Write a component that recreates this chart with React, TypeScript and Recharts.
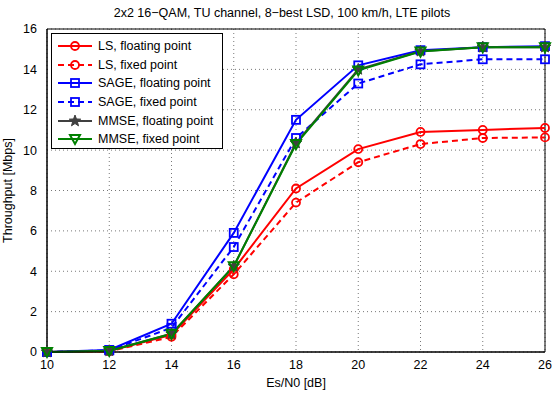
import React from 'react';
import {
  LineChart,
  Line,
  XAxis,
  YAxis,
  CartesianGrid,
  ReferenceArea,
} from 'recharts';

const snr = [10, 12, 14, 16, 18, 20, 22, 24, 26];
const lsFloat = [0, 0.05, 0.85, 4.1, 8.1, 10.05, 10.9, 11.0, 11.1];
const lsFixed = [0, 0.03, 0.75, 3.85, 7.4, 9.4, 10.3, 10.6, 10.63];
const sageFloat = [0, 0.1, 1.4, 5.9, 11.5, 14.2, 14.95, 15.1, 15.15];
const sageFixed = [0, 0.08, 1.2, 5.2, 10.6, 13.3, 14.25, 14.5, 14.5];
const mmseFloat = [0, 0.06, 0.9, 4.25, 10.35, 14.0, 14.9, 15.1, 15.1];
const mmseFixed = [0, 0.05, 0.9, 4.25, 10.3, 13.95, 14.88, 15.1, 15.1];
const xTicks = [10, 12, 14, 16, 18, 20, 22, 24, 26];
const yTicks = [0, 2, 4, 6, 8, 10, 12, 14, 16];

const data = snr.map((s, i) => ({
  snr: s,
  lsFloat: lsFloat[i],
  lsFixed: lsFixed[i],
  sageFloat: sageFloat[i],
  sageFixed: sageFixed[i],
  mmseFloat: mmseFloat[i],
  mmseFixed: mmseFixed[i],
}));

const FONT = 'Liberation Sans, Arial, Helvetica, sans-serif';

type Shape = 'circle' | 'square' | 'star' | 'tri';

const starPath = (cx: number, cy: number, r: number) => {
  const pts: string[] = [];
  for (let k = 0; k < 10; k++) {
    const rr = k % 2 === 0 ? r : r * 0.42;
    const a = -Math.PI / 2 + (k * Math.PI) / 5;
    pts.push(`${cx + rr * Math.cos(a)},${cy + rr * Math.sin(a)}`);
  }
  return 'M' + pts.join('L') + 'Z';
};

const Marker = ({ cx, cy, shape, color }: { cx: number; cy: number; shape: Shape; color: string }) => {
  if (shape === 'circle')
    return <circle cx={cx} cy={cy} r={4} fill="none" stroke={color} strokeWidth={1.8} />;
  if (shape === 'square')
    return <rect x={cx - 4} y={cy - 4} width={8} height={8} fill="none" stroke={color} strokeWidth={1.8} />;
  if (shape === 'star') return <path d={starPath(cx, cy, 6)} fill={color} stroke={color} strokeWidth={1} />;
  return (
    <path
      d={`M${cx - 5},${cy - 4}L${cx + 5},${cy - 4}L${cx},${cy + 5}Z`}
      fill="none"
      stroke={color}
      strokeWidth={2}
    />
  );
};

const series = [
  { key: 'lsFloat', name: 'LS, floating point', color: '#ff0000', dash: undefined, shape: 'circle' as Shape },
  { key: 'lsFixed', name: 'LS, fixed point', color: '#ff0000', dash: '6 4', shape: 'circle' as Shape },
  { key: 'sageFloat', name: 'SAGE, floating point', color: '#0000ff', dash: undefined, shape: 'square' as Shape },
  { key: 'sageFixed', name: 'SAGE, fixed point', color: '#0000ff', dash: '6 4', shape: 'square' as Shape },
  { key: 'mmseFloat', name: 'MMSE, floating point', color: '#404040', dash: undefined, shape: 'star' as Shape },
  { key: 'mmseFixed', name: 'MMSE, fixed point', color: '#008000', dash: undefined, shape: 'tri' as Shape },
];

const LegendBox = () => (
  <div
    style={{
      position: 'absolute',
      left: 51,
      top: 33,
      width: 172,
      height: 116,
      border: '1px solid #000',
      background: '#fff',
      fontFamily: FONT,
      fontSize: 12.5,
      boxSizing: 'border-box',
      paddingTop: 3,
    }}
  >
    {series.map((s) => (
      <div key={s.key} style={{ display: 'flex', alignItems: 'center', height: 18.6 }}>
        <svg width={46} height={16} style={{ flexShrink: 0 }}>
          <line x1={6} y1={8} x2={40} y2={8} stroke={s.color} strokeWidth={2} strokeDasharray={s.dash} />
          <Marker cx={23} cy={8} shape={s.shape} color={s.color} />
        </svg>
        <span style={{ color: '#000' }}>{s.name}</span>
      </div>
    ))}
  </div>
);

export default function App() {
  return (
    <div style={{ position: 'absolute', left: 0, top: 0, width: 554, height: 393, background: '#fff' }}>
      <div
        style={{
          position: 'absolute',
          left: 0,
          width: 564,
          top: 6,
          textAlign: 'center',
          fontFamily: FONT,
          fontSize: 12.5,
        }}
      >
        2x2 16−QAM, TU channel, 8−best LSD, 100 km/h, LTE pilots
      </div>
      <LineChart
        width={554}
        height={393}
        data={data}
        margin={{ top: 29, right: 9, bottom: 0, left: 0 }}
        style={{ fontFamily: FONT }}
      >
        <CartesianGrid stroke="#555" strokeDasharray="1 3" strokeWidth={0.8} />
        <XAxis
          dataKey="snr"
          type="number"
          domain={[10, 26]}
          ticks={xTicks}
          height={41}
          tick={{ fontSize: 12.5, fill: '#000' }}
          tickLine={false}
          axisLine={{ stroke: '#000' }}
          tickMargin={2}
          label={{ value: 'Es/N0 [dB]', position: 'insideBottom', offset: 6, fontSize: 12.5, fill: '#000' }}
        />
        <YAxis
          type="number"
          domain={[0, 16]}
          ticks={yTicks}
          width={47}
          tick={{ fontSize: 12.5, fill: '#000' }}
          tickLine={false}
          axisLine={{ stroke: '#000' }}
          tickMargin={4}
          label={{
            value: 'Throughput [Mbps]',
            angle: -90,
            position: 'insideLeft',
            offset: 8,
            style: { textAnchor: 'middle' },
            fontSize: 12.5,
            fill: '#000',
          }}
        />
        <ReferenceArea x1={10} x2={26} y1={0} y2={16} fill="none" fillOpacity={0} stroke="#000" strokeWidth={1} />
        {series.map((s) => (
          <Line
            key={s.key}
            dataKey={s.key}
            name={s.name}
            stroke={s.color}
            strokeWidth={2}
            strokeDasharray={s.dash}
            isAnimationActive={false}
            dot={(p: any) => <Marker key={`${s.key}-${p.index}`} cx={p.cx} cy={p.cy} shape={s.shape} color={s.color} />}
            activeDot={false}
          />
        ))}
      </LineChart>
      <LegendBox />
    </div>
  );
}
